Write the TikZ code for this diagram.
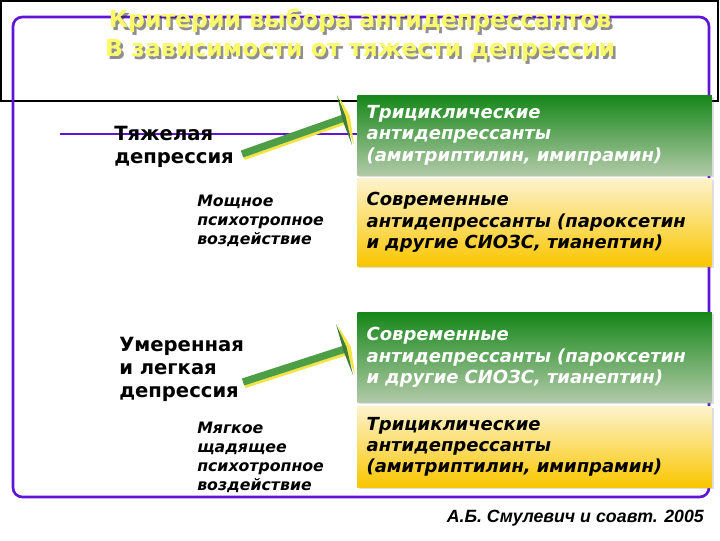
\documentclass[tikz,border=0pt]{standalone}
\usepackage{fontspec}
\usetikzlibrary{calc, shadows}

\newfontfamily\verdana{DejaVu Sans}
\newfontfamily\arialf{Liberation Sans}

\definecolor{framevio}{RGB}{95,20,215}
\definecolor{titleyel}{RGB}{250,250,105}
\definecolor{gtop}{RGB}{22,135,25}
\definecolor{gbot}{RGB}{178,202,168}
\definecolor{ytop}{RGB}{253,243,205}
\definecolor{ybot}{RGB}{250,198,0}
\definecolor{shaftgreen}{RGB}{78,158,72}
\definecolor{glow}{RGB}{242,228,70}

\tikzset{
  drugbox/.style   = {anchor=north west, minimum width=266pt, inner xsep=7pt,
                      text width=252pt, align=left,
                      font=\verdana\bfseries\itshape\fontsize{13.5}{16}\selectfont,
                      drop shadow={shadow xshift=1.5pt, shadow yshift=-1.5pt, opacity=0.25}},
  greenbox/.style  = {drugbox, top color=gtop, bottom color=gbot, text=white},
  yellowbox/.style = {drugbox, top color=ytop, bottom color=ybot, text=black},
  severity/.style  = {anchor=base west, inner sep=0pt, align=left,
                      font=\verdana\bfseries\fontsize{14.7}{17}\selectfont},
  effect/.style    = {anchor=base west, inner sep=0pt, align=left,
                      font=\verdana\bfseries\itshape\fontsize{11.8}{14.25}\selectfont},
  heading/.style   = {anchor=north, inner sep=0pt, align=center,
                      font=\verdana\bfseries\fontsize{17.7}{21.75}\selectfont}
}

\begin{document}
\begin{tikzpicture}[x = 0.75pt, y = -0.75pt]

    \useasboundingbox (0,0) rectangle (720,540);

    \draw[line width=1.2pt] (1,1) rectangle (718,101);
    \draw[framevio, line width=2pt, rounded corners=7pt] (13,17) rectangle (709,497);
    \draw[framevio, line width=2pt] (60,134) -- (357,134);

    % title with its shadow
    \node[heading, text=black!80, opacity=0.55] at (362.5,11.5) {Критерии выбора антидепрессантов\\В зависимости от тяжести депрессии};
    \node[heading, text=titleyel] (title) at (360,9) {Критерии выбора антидепрессантов\\В зависимости от тяжести депрессии};

    \node[severity] (severe) at (114,163) {Тяжелая\\депрессия};
    \node[effect]   (strong) at (197,244) {Мощное\\психотропное\\воздействие};
    \node[severity] (mild)   at (119,397) {Умеренная\\и легкая\\депрессия};
    \node[effect]   (soft)   at (197,490) {Мягкое\\щадящее\\психотропное\\воздействие};

    \coordinate (severetail) at (242,154);
    \coordinate (severehead) at (344,118);
    \coordinate (mildtail)   at (243,382);
    \coordinate (mildhead)   at (345,349);

    \draw[glow, line width=5.5pt] ($(severetail)+(1.5,2.5)$) -- ($(severehead)+(1.5,2.5)$);
    \draw[shaftgreen, line width=5.5pt] (severetail) -- (severehead);
    \fill[glow] ($(severehead)+(-5,-21)$) -- ($(severehead)+(6,-2)$) -- ($(severehead)+(10,27)$) -- ($(severehead)+(1,2)$) -- cycle;
    \fill[shaftgreen!80!black] ($(severehead)+(-7,-23)$) -- ($(severehead)+(1.5,-2)$) -- ($(severehead)+(8,27)$) -- ($(severehead)+(-1.5,2)$) -- cycle;

    \draw[glow, line width=5.5pt] ($(mildtail)+(1.5,2.5)$) -- ($(mildhead)+(1.5,2.5)$);
    \draw[shaftgreen, line width=5.5pt] (mildtail) -- (mildhead);
    \fill[glow] ($(mildhead)+(-7,-23)$) -- ($(mildhead)+(6,-2)$) -- ($(mildhead)+(10,26)$) -- ($(mildhead)+(1,2)$) -- cycle;
    \fill[shaftgreen!80!black] ($(mildhead)+(-9,-25)$) -- ($(mildhead)+(1.5,-2)$) -- ($(mildhead)+(8,26)$) -- ($(mildhead)+(-1.5,2)$) -- cycle;

    \node[greenbox,  minimum height=60pt]    (tcasevere)  at (357,95)  {Трициклические\\антидепрессанты\\(амитриптилин, имипрамин)};
    \node[yellowbox, minimum height=66pt]    (ssrisevere) at (357,178) {Современные\\антидепрессанты (пароксетин\\и другие СИОЗС, тианептин)};
    \node[greenbox,  minimum height=67.5pt]  (ssrimild)   at (357,312) {Современные\\антидепрессанты (пароксетин\\и другие СИОЗС, тианептин)};
    \node[yellowbox, minimum height=60.75pt] (tcamild)    at (357,406) {Трициклические\\антидепрессанты\\(амитриптилин, имипрамин)};

    \node[anchor=base east, inner sep=0pt, font=\arialf\bfseries\itshape\fontsize{13.3}{15}\selectfont] (source) at (704,522) {А.Б. Смулевич и соавт. 2005};

\end{tikzpicture}
\end{document}
